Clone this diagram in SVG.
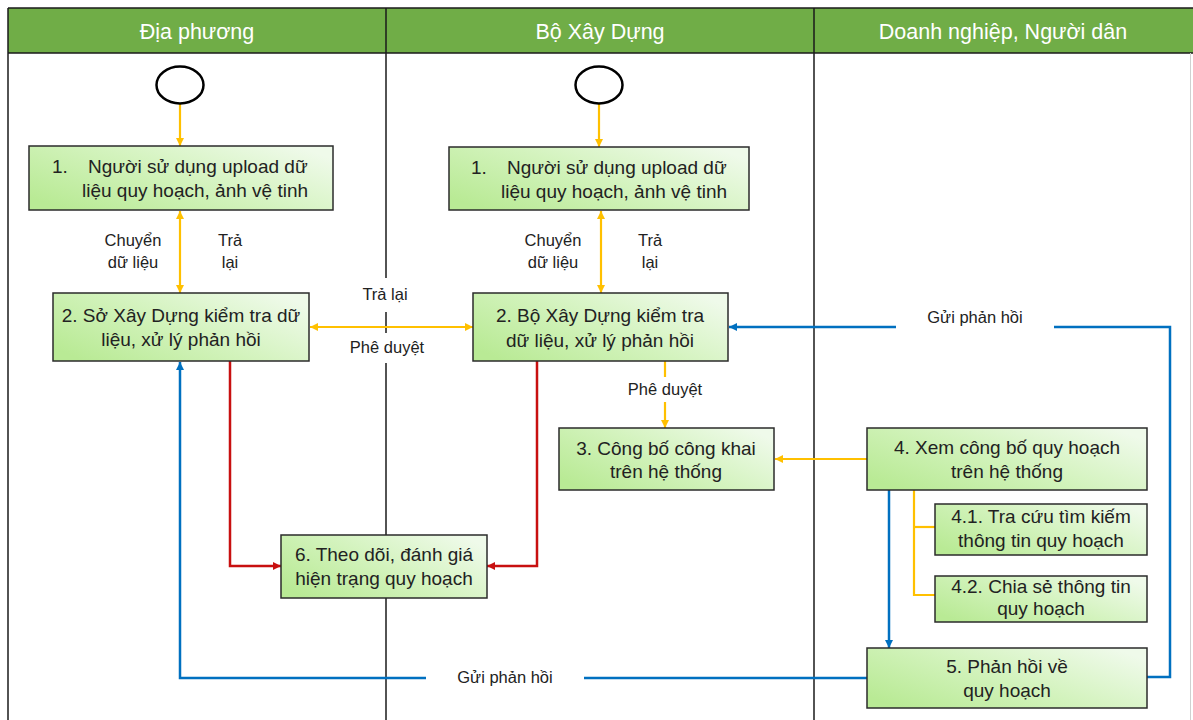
<svg xmlns="http://www.w3.org/2000/svg" width="1193" height="720" viewBox="0 0 1193 720">
<style>
.hdr{fill:#70AD47;}
.htxt{font-family:"Liberation Sans",Arial,sans-serif;font-size:21.5px;fill:#ffffff;text-anchor:middle;}
.lane{stroke:#1a1a1a;stroke-width:1.5;fill:none;}
.node{fill:url(#g);stroke:#2b2b2b;stroke-width:1.5;}
.nt{font-family:"Liberation Sans",Arial,sans-serif;font-size:19px;fill:#222;text-anchor:middle;}
.nts{font-family:"Liberation Sans",Arial,sans-serif;font-size:19px;fill:#222;}
.lbl{font-family:"Liberation Sans",Arial,sans-serif;font-size:16.5px;fill:#222;text-anchor:middle;}
.o{stroke:#FFC000;stroke-width:2.2;fill:none;}
.b{stroke:#0070C0;stroke-width:2.5;fill:none;}
.r{stroke:#C81010;stroke-width:2.5;fill:none;}
.bg{fill:#ffffff;}
.start{fill:#ffffff;stroke:#000;stroke-width:2.5;}
</style>
<defs>
<linearGradient id="g" x1="0" y1="0.8" x2="1" y2="0.2">
<stop offset="0" stop-color="#B9EA95"/>
<stop offset="0.5" stop-color="#D3F3BD"/>
<stop offset="1" stop-color="#EFFAEA"/>
</linearGradient>
<marker id="ao" viewBox="0 0 10 10" refX="10" refY="5" markerWidth="9" markerHeight="8" markerUnits="userSpaceOnUse" orient="auto-start-reverse"><path d="M0,0 L10,5 L0,10 z" fill="#FFC000"/></marker>
<marker id="ab" viewBox="0 0 10 10" refX="10" refY="5" markerWidth="9" markerHeight="8" markerUnits="userSpaceOnUse" orient="auto-start-reverse"><path d="M0,0 L10,5 L0,10 z" fill="#0070C0"/></marker>
<marker id="ar" viewBox="0 0 10 10" refX="10" refY="5" markerWidth="9" markerHeight="8" markerUnits="userSpaceOnUse" orient="auto-start-reverse"><path d="M0,0 L10,5 L0,10 z" fill="#C81010"/></marker>
</defs>
<rect x="0" y="0" width="1193" height="720" fill="#ffffff"/>
<g id="lanes">
<rect class="hdr" x="8" y="8" width="1185" height="45"/>
<line class="lane" x1="8" y1="8" x2="1193" y2="8"/>
<line class="lane" x1="8" y1="53" x2="1193" y2="53"/>
<line class="lane" x1="8" y1="8" x2="8" y2="720"/>
<line class="lane" x1="386" y1="8" x2="386" y2="720"/>
<line class="lane" x1="814" y1="8" x2="814" y2="720"/>
<line x1="1190.5" y1="53" x2="1190.5" y2="720" stroke="#d0d0d0" stroke-width="1"/>
<text class="htxt" x="197" y="39">Địa phương</text>
<text class="htxt" x="600" y="39">Bộ Xây Dựng</text>
<text class="htxt" x="1003" y="39">Doanh nghiệp, Người dân</text>
</g>
<g id="connectors">
<line class="o" x1="180" y1="104" x2="180" y2="146" marker-end="url(#ao)"/>
<line class="o" x1="599" y1="104" x2="599" y2="147" marker-end="url(#ao)"/>
<line class="o" x1="180" y1="211" x2="180" y2="293" marker-start="url(#ao)" marker-end="url(#ao)"/>
<line class="o" x1="601" y1="211" x2="601" y2="293" marker-start="url(#ao)" marker-end="url(#ao)"/>
<line class="o" x1="310" y1="327" x2="473" y2="327" marker-start="url(#ao)" marker-end="url(#ao)"/>
<line class="o" x1="665" y1="361" x2="665" y2="428" marker-end="url(#ao)"/>
<line class="o" x1="867" y1="459" x2="775" y2="459" marker-end="url(#ao)"/>
<polyline class="o" points="914,490 914,595 935,595"/>
<line class="o" x1="914" y1="527" x2="935" y2="527"/>
<line class="b" x1="889" y1="490" x2="889" y2="648" marker-end="url(#ab)"/>
<polyline class="b" points="1147,677 1170,677 1170,327 729,327" marker-end="url(#ab)"/>
<polyline class="b" points="867,678 180,678 180,362" marker-end="url(#ab)"/>
<polyline class="r" points="230,361 230,566 281,566" marker-end="url(#ar)"/>
<polyline class="r" points="537,361 537,566 487,566" marker-end="url(#ar)"/>
</g>
<g id="labels">
<rect class="bg" x="350" y="278" width="72" height="34"/>
<rect class="bg" x="345" y="333" width="84" height="30"/>
<rect class="bg" x="622" y="377" width="88" height="25"/>
<rect class="bg" x="896" y="312" width="158" height="28"/>
<rect class="bg" x="426" y="664" width="158" height="28"/>
<text class="lbl" x="133" y="246">Chuyển</text>
<text class="lbl" x="133" y="268">dữ liệu</text>
<text class="lbl" x="230" y="246">Trả</text>
<text class="lbl" x="230" y="268">lại</text>
<text class="lbl" x="553" y="246">Chuyển</text>
<text class="lbl" x="553" y="268">dữ liệu</text>
<text class="lbl" x="650" y="246">Trả</text>
<text class="lbl" x="650" y="268">lại</text>
<text class="lbl" x="385" y="300">Trả lại</text>
<text class="lbl" x="387" y="353">Phê duyệt</text>
<text class="lbl" x="665" y="395">Phê duyệt</text>
<text class="lbl" x="975" y="323">Gửi phản hồi</text>
<text class="lbl" x="505" y="683">Gửi phản hồi</text>
</g>
<g id="start-local"><ellipse class="start" cx="180" cy="85" rx="23.5" ry="18.5"/></g>
<g id="start-ministry"><ellipse class="start" cx="599" cy="85" rx="23.5" ry="18.5"/></g>
<g id="n1-local">
<rect class="node" x="29" y="146" width="304" height="64"/>
<text class="nts" x="52" y="173">1.</text>
<text class="nts" x="88" y="173">Người sử dụng upload dữ</text>
<text class="nts" x="82" y="197">liệu quy hoạch, ảnh vệ tinh</text>
</g>
<g id="n1-ministry">
<rect class="node" x="449" y="147" width="300" height="63"/>
<text class="nts" x="471" y="174">1.</text>
<text class="nts" x="507" y="174">Người sử dụng upload dữ</text>
<text class="nts" x="501" y="198">liệu quy hoạch, ảnh vệ tinh</text>
</g>
<g id="n2-local">
<rect class="node" x="53" y="293" width="256" height="68"/>
<text class="nt" x="181" y="322">2. Sở Xây Dựng kiểm tra dữ</text>
<text class="nt" x="181" y="346">liệu, xử lý phản hồi</text>
</g>
<g id="n2-ministry">
<rect class="node" x="473" y="293" width="255" height="68"/>
<text class="nt" x="600" y="322">2. Bộ Xây Dựng kiểm tra</text>
<text class="nt" x="600" y="347">dữ liệu, xử lý phản hồi</text>
</g>
<g id="n3">
<rect class="node" x="559" y="428" width="215" height="62"/>
<text class="nt" x="666" y="455">3. Công bố công khai</text>
<text class="nt" x="666" y="478">trên hệ thống</text>
</g>
<g id="n4">
<rect class="node" x="867" y="428" width="280" height="62"/>
<text class="nt" x="1007" y="454">4. Xem công bố quy hoạch</text>
<text class="nt" x="1007" y="478">trên hệ thống</text>
</g>
<g id="n41">
<rect class="node" x="935" y="504" width="212" height="51"/>
<text class="nt" x="1041" y="523">4.1. Tra cứu tìm kiếm</text>
<text class="nt" x="1041" y="547">thông tin quy hoạch</text>
</g>
<g id="n42">
<rect class="node" x="935" y="576" width="212" height="46"/>
<text class="nt" x="1041" y="593">4.2. Chia sẻ thông tin</text>
<text class="nt" x="1041" y="615">quy hoạch</text>
</g>
<g id="n5">
<rect class="node" x="867" y="648" width="280" height="60"/>
<text class="nt" x="1007" y="673">5. Phản hồi về</text>
<text class="nt" x="1007" y="697">quy hoạch</text>
</g>
<g id="n6">
<rect class="node" x="281" y="535" width="206" height="63"/>
<text class="nt" x="384" y="561">6. Theo dõi, đánh giá</text>
<text class="nt" x="384" y="585">hiện trạng quy hoạch</text>
</g>
</svg>
